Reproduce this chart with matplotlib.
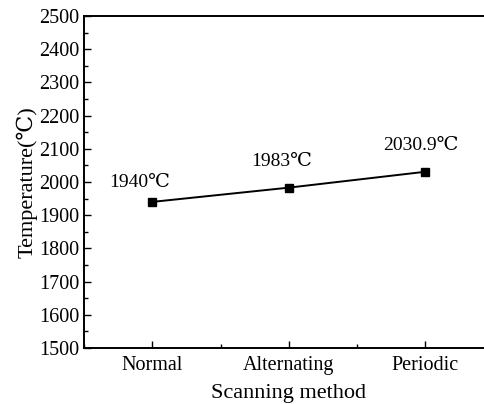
import numpy as np
import matplotlib.pyplot as plt
from matplotlib.ticker import MultipleLocator

methods = ["Normal", "Alternating", "Periodic"]
temps = [1940, 1983, 2030.9]
temp_labels = ["1940\u2103", "1983\u2103", "2030.9\u2103"]

plt.rcParams['font.family'] = ['Liberation Serif', 'DejaVu Serif', 'DejaVu Sans']

fig = plt.figure(figsize=(4.85, 4.04), dpi=100)
ax = fig.add_axes([0.173, 0.139, 0.845, 0.821])

x = np.arange(len(methods))
ax.plot(x, temps, color='black', lw=1.4, marker='s', ms=6)

offsets = [(-9, 14), (-5, 19), (-3, 19)]
for xi, yi, lab, off in zip(x, temps, temp_labels, offsets):
    ax.annotate(lab, (xi, yi), xytext=off, textcoords='offset points',
                ha='center', va='center', fontsize=14)

ax.set_xlim(-0.5, 2.5)
ax.set_ylim(1500, 2500)
ax.set_xticks(x)
ax.set_xticklabels(methods)
ax.xaxis.set_minor_locator(MultipleLocator(0.5))
ax.yaxis.set_major_locator(MultipleLocator(100))
ax.yaxis.set_minor_locator(MultipleLocator(50))
ax.tick_params(which='both', direction='in', labelsize=14.5, top=False, right=False)
ax.tick_params(axis='x', pad=6)
ax.tick_params(which='major', length=5, width=1)
ax.tick_params(which='minor', length=3, width=1)
for s in ax.spines.values():
    s.set_linewidth(1.4)

ax.set_xlabel("Scanning method", fontsize=16, labelpad=6)
ax.set_ylabel("Temperature(\u2103)", fontsize=16, labelpad=1)

fig.savefig("out.png")
